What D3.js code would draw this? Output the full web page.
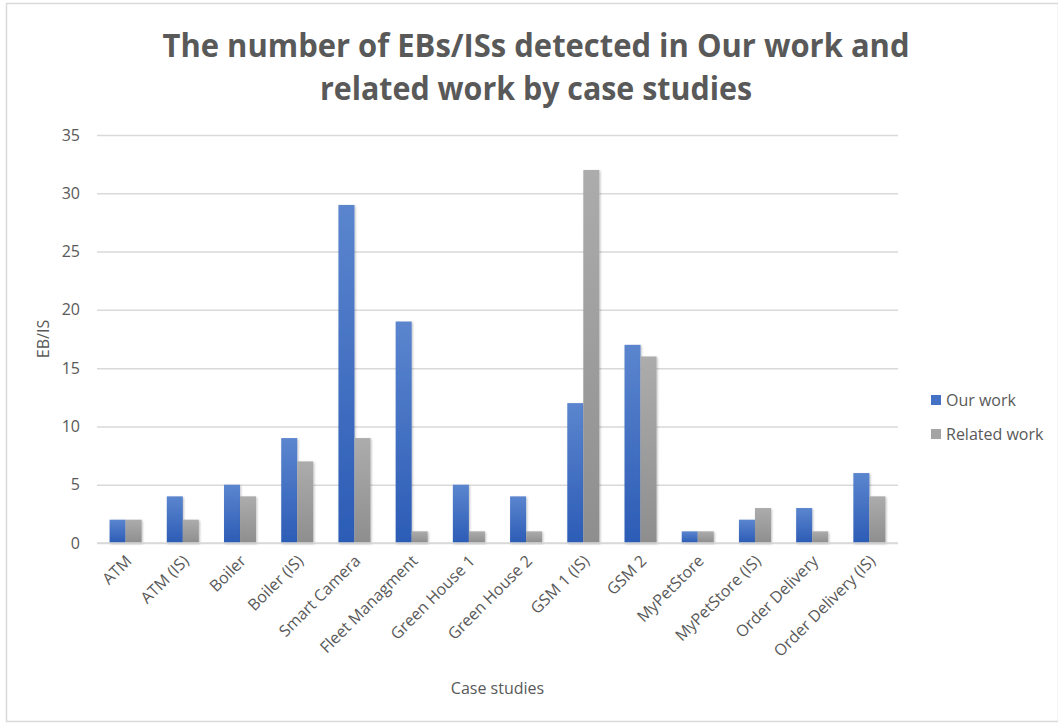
<!DOCTYPE html>
<html>
<head>
<meta charset="utf-8">
<script src="https://cdn.jsdelivr.net/npm/d3@7"></script>
<style>
  html, body { margin: 0; padding: 0; background: #fff; }
  svg { display: block; }
  text { font-family: "Open Sans", "Noto Sans", sans-serif; fill: #595959; }
</style>
</head>
<body>
<svg id="chart" width="1058" height="723"></svg>
<script>
// Case studies and the EB/IS counts found by each approach
const categories = ["ATM", "ATM (IS)", "Boiler", "Boiler (IS)", "Smart Camera", "Fleet Managment",
  "Green House 1", "Green House 2", "GSM 1 (IS)", "GSM 2", "MyPetStore", "MyPetStore (IS)",
  "Order Delivery", "Order Delivery (IS)"];
const ourWork     = [2, 4, 5, 9, 29, 19, 5, 4, 12, 17, 1, 2, 3, 6];
const relatedWork = [2, 2, 4, 7, 9, 1, 1, 1, 32, 16, 1, 3, 1, 4];
const seriesNames = ["Our work", "Related work"];
const yTicks = [0, 5, 10, 15, 20, 25, 30, 35];
const titleLines = ["The number of EBs/ISs detected in Our work and", "related work by case studies"];

const svg = d3.select("#chart");
const W = 1058, H = 723;
const fs = 16;

// outer frame
svg.append("rect").attr("x", 6.5).attr("y", 3.5).attr("width", W - 6).attr("height", H - 5)
  .attr("fill", "#fff").attr("stroke", "#d9d9d9").attr("stroke-width", 1.5);

const plot = { left: 97, right: 898, top: 135, bottom: 543 };

const x = d3.scaleBand().domain(categories).range([plot.left, plot.right]).paddingInner(0.44).paddingOuter(0.22);
const xs = d3.scaleBand().domain(seriesNames).range([0, x.bandwidth()]);
const y = d3.scaleLinear().domain([0, 35]).range([plot.bottom, plot.top]);

const defs = svg.append("defs");
function grad(id, top, bottom) {
  const g = defs.append("linearGradient").attr("id", id).attr("x1", 0).attr("y1", 0).attr("x2", 0).attr("y2", 1);
  g.append("stop").attr("offset", "0%").attr("stop-color", top);
  g.append("stop").attr("offset", "100%").attr("stop-color", bottom);
}
grad("gBlue", "#5b85ce", "#2c5cb6");
grad("gGray", "#acacac", "#8e8e8e");
const shadow = defs.append("filter").attr("id", "shadow").attr("x", "-30%").attr("y", "-5%").attr("width", "160%").attr("height", "115%");
shadow.append("feDropShadow").attr("dx", 1).attr("dy", 1).attr("stdDeviation", 1.2).attr("flood-color", "#000").attr("flood-opacity", 0.25);

// gridlines and value ticks
const yAxis = d3.axisLeft(y).tickValues(yTicks).tickSize(-(plot.right - plot.left)).tickPadding(17);
const ga = svg.append("g").attr("transform", `translate(${plot.left},0)`).call(yAxis);
ga.select(".domain").remove();
ga.selectAll(".tick line").attr("stroke", "#d9d9d9").attr("stroke-width", 1.5);
ga.selectAll(".tick text").attr("font-size", fs).attr("fill", "#595959");

// bars
const colors = { "Our work": "url(#gBlue)", "Related work": "url(#gGray)" };
const legendColors = { "Our work": "#4472c4", "Related work": "#a5a5a5" };
const rows = categories.map((c, i) => ({ cat: c, vals: [ { s: seriesNames[0], v: ourWork[i] }, { s: seriesNames[1], v: relatedWork[i] } ] }));
const groups = svg.append("g").selectAll("g").data(rows).join("g")
  .attr("transform", d => `translate(${x(d.cat)},0)`);
groups.selectAll("rect").data(d => d.vals).join("rect")
  .attr("x", d => xs(d.s))
  .attr("width", xs.bandwidth())
  .attr("y", d => y(d.v))
  .attr("height", d => y(0) - y(d.v))
  .attr("fill", d => colors[d.s])
  .attr("filter", "url(#shadow)");

// category axis
const xAxis = d3.axisBottom(x).tickSize(0).tickPadding(0);
const gx = svg.append("g").attr("transform", `translate(0,${plot.bottom})`).call(xAxis);
gx.select(".domain").attr("stroke", "#d9d9d9").attr("stroke-width", 1.5)
  .attr("d", `M${plot.left},0H${plot.right}`);
gx.selectAll(".tick text")
  .attr("font-size", fs).attr("fill", "#595959")
  .attr("text-anchor", "end").attr("dy", 0)
  .attr("transform", "translate(7,19) rotate(-45)");

// axis titles
svg.append("text").attr("transform", `translate(49,${(plot.top + plot.bottom) / 2}) rotate(-90)`)
  .attr("text-anchor", "middle").attr("font-size", fs).text("EB/IS");
svg.append("text").attr("x", (plot.left + plot.right) / 2).attr("y", 694)
  .attr("text-anchor", "middle").attr("font-size", fs).text("Case studies");

// title
const titleWidths = [747, 432];
titleLines.forEach((t, i) => {
  svg.append("text").attr("x", 536).attr("y", 57 + i * 43)
    .attr("text-anchor", "middle").attr("font-size", 33).attr("font-weight", 700)
    .attr("textLength", titleWidths[i]).attr("lengthAdjust", "spacingAndGlyphs")
    .text(t);
});

// legend
const lg = svg.append("g").selectAll("g").data(seriesNames).join("g")
  .attr("transform", (d, i) => `translate(931,${400 + i * 34})`);
lg.append("rect").attr("x", 0).attr("y", -5).attr("width", 10).attr("height", 10).attr("fill", d => legendColors[d]);
lg.append("text").attr("x", 15).attr("y", 6).attr("font-size", fs).text(d => d);
</script>
</body>
</html>
